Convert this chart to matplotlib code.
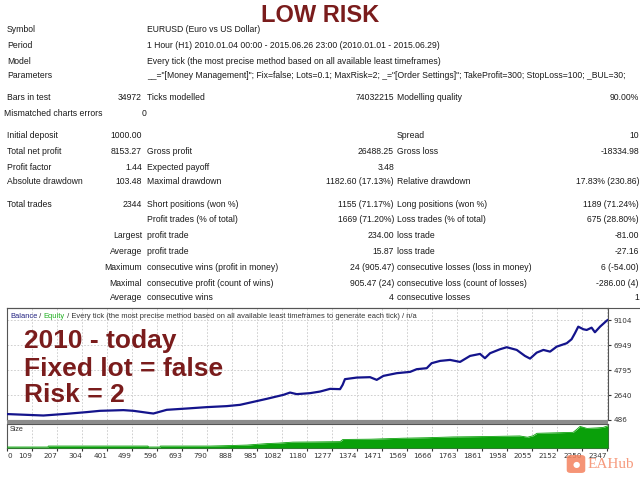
import matplotlib.pyplot as plt
import numpy as np
from matplotlib.patches import Rectangle, FancyBboxPatch
from matplotlib.lines import Line2D

# ---- report table ----
header_labels = ["Symbol", "Period", "Model", "Parameters"]
header_values = [
    "EURUSD (Euro vs US Dollar)",
    "1 Hour (H1) 2010.01.04 00:00 - 2015.06.26 23:00 (2010.01.01 - 2015.06.29)",
    "Every tick (the most precise method based on all available least timeframes)",
    '__="[Money Management]"; Fix=false; Lots=0.1; MaxRisk=2; _="[Order Settings]"; '
    'TakeProfit=300; StopLoss=100; _BUL=30;',
]
header_y = [30, 45, 61, 76]

rows_y = [98, 113, 136, 151, 167, 182, 205, 220, 236, 252, 267, 283, 298]
col1_text = ["Bars in test", "Mismatched charts errors", "Initial deposit", "Total net profit",
             "Profit factor", "Absolute drawdown", "Total trades", "", "", "", "", "", ""]
col1_val = ["34972", "0", "1000.00", "8153.27", "1.44", "103.48", "2344", "",
            "Largest", "Average", "Maximum", "Maximal", "Average"]
col2_text = ["Ticks modelled", "", "", "Gross profit", "Expected payoff", "Maximal drawdown",
             "Short positions (won %)", "Profit trades (% of total)", "profit trade", "profit trade",
             "consecutive wins (profit in money)", "consecutive profit (count of wins)",
             "consecutive wins"]
col2_val = ["74032215", "", "", "26488.25", "3.48", "1182.60 (17.13%)", "1155 (71.17%)",
            "1669 (71.20%)", "234.00", "15.87", "24 (905.47)", "905.47 (24)", "4"]
col3_text = ["Modelling quality", "", "Spread", "Gross loss", "", "Relative drawdown",
             "Long positions (won %)", "Loss trades (% of total)", "loss trade", "loss trade",
             "consecutive losses (loss in money)", "consecutive loss (count of losses)",
             "consecutive losses"]
col3_val = ["90.00%", "", "10", "-18334.98", "", "17.83% (230.86)", "1189 (71.24%)",
            "675 (28.80%)", "-81.00", "-27.16", "6 (-54.00)", "-286.00 (4)", "1"]

# ---- balance curve (trade number, balance) ----
trade_no = [0, 103, 142, 233, 311, 363, 454, 493, 558, 571, 623, 701, 779, 857, 909, 961,
            1013, 1078, 1104, 1130, 1182, 1221, 1260, 1299, 1309, 1318, 1364, 1416, 1442,
            1468, 1520, 1572, 1598, 1637, 1656, 1689, 1728, 1767, 1806, 1845, 1864, 1884,
            1923, 1949, 1988, 2020, 2040, 2066, 2092, 2118, 2144, 2183, 2202, 2215, 2228,
            2248, 2261, 2280, 2293, 2313, 2339, 2344]
balance = [1000, 909, 875, 1022, 1169, 1281, 1341, 1281, 1082, 1048, 1367, 1480, 1600, 1687,
           1799, 2058, 2318, 2663, 2862, 2724, 2810, 2948, 3182, 3156, 3527, 4020, 4158, 4193,
           3959, 4305, 4538, 4650, 4884, 4970, 5402, 5601, 5687, 5514, 6033, 6206, 5834, 6266,
           6612, 6785, 6551, 6033, 5800, 6318, 6551, 6404, 6836, 7130, 7476, 7994, 8564, 8340,
           8279, 8478, 8080, 8564, 9083, 9153]

# ---- lot size ----
size_no = [0, 160, 161, 550, 551, 597, 598, 792, 870, 936, 1014, 1060, 1115, 1200, 1299,
           1310, 1420, 1545, 1640, 1740, 1870, 2000, 2030, 2052, 2067, 2140, 2208, 2222,
           2235, 2262, 2300, 2325, 2344]
size_lot = [0.01, 0.01, 0.02, 0.02, 0.01, 0.01, 0.02, 0.02, 0.025, 0.03, 0.045, 0.05, 0.06,
            0.062, 0.065, 0.087, 0.09, 0.10, 0.105, 0.113, 0.117, 0.123, 0.11, 0.125, 0.15,
            0.155, 0.16, 0.19, 0.22, 0.20, 0.205, 0.21, 0.227]

y_levels = [486, 2640, 4795, 6949, 9104]
x_labels = ["0", "109", "207", "304", "401", "499", "596", "693", "790", "888", "985", "1082",
            "1180", "1277", "1374", "1471", "1569", "1666", "1763", "1861", "1958", "2055",
            "2152", "2250", "2347"]
n_trades = 2344

W, H = 640, 480
fx = lambda x: x / W
fy = lambda y: 1 - y / H

fig = plt.figure(figsize=(6.4, 4.8), dpi=100)
fig.patch.set_facecolor("white")

txt = dict(family="Liberation Sans", fontsize=6.2, color="#1a1a1a", va="center")

fig.text(fx(320), fy(16), "LOW RISK", ha="center", va="center", fontsize=17,
         fontweight="bold", color="#7a1c1c", family=["Liberation Sans", "DejaVu Sans"])

for lab, val, y in zip(header_labels, header_values, header_y):
    fig.text(fx(7), fy(y), lab, ha="left", **txt)
    fig.text(fx(147), fy(y), val, ha="left", **txt)

for i, y in enumerate(rows_y):
    if col1_text[i]:
        fig.text(fx(4 if i == 1 else 7), fy(y), col1_text[i], ha="left", **txt)
    if col1_val[i]:
        fig.text(fx(146 if i == 1 else 142), fy(y), col1_val[i], ha="right", **txt)
    if col2_text[i]:
        fig.text(fx(147), fy(y), col2_text[i], ha="left", **txt)
    if col2_val[i]:
        fig.text(fx(394), fy(y), col2_val[i], ha="right", **txt)
    if col3_text[i]:
        fig.text(fx(397), fy(y), col3_text[i], ha="left", **txt)
    if col3_val[i]:
        fig.text(fx(639), fy(y), col3_val[i], ha="right", **txt)

# ---- chart panels ----
step = n_trades * 25 / 601
grid_x = [k * step for k in range(1, 25)]

ax = fig.add_axes([fx(7), fy(420), 601 / W, 112 / H])
ax.plot(trade_no, balance, color="#14148c", lw=1.6, zorder=3)
ax.set_xlim(0, n_trades)
ax.set_ylim(490, 10180)
ax.set_xticks([])
ax.yaxis.tick_right()
ax.set_yticks(y_levels)
ax.set_yticklabels([str(v) for v in y_levels])
ax.tick_params(axis="y", length=2, pad=2, labelsize=5.2, colors="#333333")
for gx in grid_x:
    ax.axvline(gx, color="#c8c8c8", lw=0.6, ls=(0, (2, 2)), zorder=1)
for gy in y_levels[1:]:
    ax.axhline(gy, color="#c8c8c8", lw=0.6, ls=(0, (2, 2)), zorder=1)
for s in ax.spines.values():
    s.set_color("#555555")
    s.set_linewidth(0.8)

ttl = dict(va="center", fontsize=5.4, family="Liberation Sans")
t0 = ax.text(3 / 601, 1 - 8 / 112, "Balance", transform=ax.transAxes, color="#202080",
             ha="left", **ttl)
t1 = ax.annotate(" / ", xycoords=t0, xy=(1, 0.5), color="#333333", **ttl)
t2 = ax.annotate("Equity", xycoords=t1, xy=(1, 0.5), color="#20b020", **ttl)
ax.annotate(" / Every tick (the most precise method based on all available least timeframes "
            "to generate each tick) / n/a", xycoords=t2, xy=(1, 0.5), color="#333333", **ttl)

overlay = dict(fontsize=19, fontweight="bold", color="#7a1c1c", ha="left", va="center",
               family=["Liberation Sans", "DejaVu Sans"], zorder=5)
fig.text(fx(24), fy(341), "2010 - today", **overlay)
fig.text(fx(24), fy(369), "Fixed lot = false", **overlay)
fig.text(fx(24), fy(395), "Risk = 2", **overlay)

# separator bar and top frame line
fig.patches.append(Rectangle((fx(7), fy(423.5)), 601 / W, 3.5 / H, transform=fig.transFigure,
                             facecolor="#8c8c8c", edgecolor="none"))
fig.lines.append(Line2D([fx(7), fx(640)], [fy(308), fy(308)], transform=fig.transFigure,
                        color="#555555", lw=0.8))

ax2 = fig.add_axes([fx(7), fy(448), 601 / W, 24.5 / H])
ax2.fill_between(size_no, size_lot, 0, color="#0aa00a", lw=0, zorder=3)
ax2.plot(size_no, size_lot, color="#0aa00a", lw=0.6, zorder=3)
ax2.set_xlim(0, n_trades)
ax2.set_ylim(0, 0.25)
ax2.set_yticks([])
for gx in grid_x:
    ax2.axvline(gx, color="#c8c8c8", lw=0.6, ls=(0, (2, 2)), zorder=1)
ax2.set_xticks([0] + grid_x)
ax2.set_xticklabels(x_labels)
ax2.tick_params(axis="x", length=2, pad=1.5, labelsize=5.2, colors="#333333")
for i, lbl in enumerate(ax2.get_xticklabels()):
    lbl.set_ha("left" if i == 0 else "right")
for s in ax2.spines.values():
    s.set_color("#555555")
    s.set_linewidth(0.8)
ax2.text(3 / 601, 1 - 6 / 24.5, "Size", transform=ax2.transAxes, fontsize=5.2,
         color="#333333", va="center", ha="left", family="Liberation Sans")

# watermark logo
fig.patches.append(FancyBboxPatch((fx(568), fy(472)), 16 / W, 16 / H,
                                  boxstyle="round,pad=0.002,rounding_size=0.006",
                                  transform=fig.transFigure, facecolor="#f4825e",
                                  edgecolor="none", alpha=0.85))
fig.text(fx(576), fy(464), "●", ha="center", va="center", fontsize=6, color="white")
fig.text(fx(588), fy(465), "EAHub", ha="left", va="center", fontsize=11,
         color="#f4825e", alpha=0.8, family="Liberation Serif")

fig.savefig("out.png", dpi=100)
